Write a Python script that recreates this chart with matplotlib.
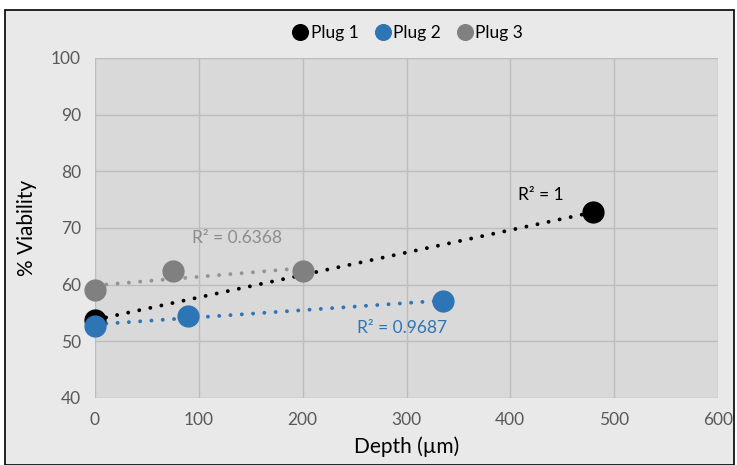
import numpy as np
import matplotlib
matplotlib.use("Agg")
import matplotlib.pyplot as plt
from matplotlib.patches import Rectangle

plt.rcParams['font.family'] = ['Lato', 'DejaVu Sans']

# data
plug1_x = [0, 480]
plug1_y = [53.8, 72.8]
plug2_x = [0, 90, 335]
plug2_y = [52.7, 54.5, 57.1]
plug3_x = [0, 75, 200]
plug3_y = [59.0, 62.4, 62.4]
r2_labels = ["R² = 1", "R² = 0.9687", "R² = 0.6368"]
xticks = [0, 100, 200, 300, 400, 500, 600]
yticks = [40, 50, 60, 70, 80, 90, 100]

fig = plt.figure(figsize=(7.37, 4.65), dpi=100)
fig.patch.set_facecolor("white")
# chart frame, kept behind the axes
frame = Rectangle((5 / 737, 0), 729 / 737, 455 / 465, transform=fig.transFigure,
                  facecolor="#e9e9e9", edgecolor="black", linewidth=1.2, zorder=-10)
fig.add_artist(frame)
ax = fig.add_axes([95 / 737, (465 - 398) / 465, 623 / 737, 340 / 465])
ax.set_facecolor("#d9d9d9")
for s in ax.spines.values():
    s.set_visible(False)

ax.set_xlim(0, 600)
ax.set_ylim(40, 100)
ax.set_xticks(xticks)
ax.set_yticks(yticks)
ax.grid(True, color="#bdbdbd", linewidth=1)
ax.set_axisbelow(True)
ax.tick_params(length=0, labelsize=12.5, colors="#595959", pad=10)

series = [
    (plug1_x, plug1_y, "black", "black", "Plug 1"),
    (plug2_x, plug2_y, "#2e75b6", "#2e75b6", "Plug 2"),
    (plug3_x, plug3_y, "#808080", "#939393", "Plug 3"),
]
for xs, ys, c, lc, name in series:
    k, b = np.polyfit(xs, ys, 1)
    tx = np.array([0, max(xs)])
    ax.plot(tx, k * tx + b, linestyle=(0, (0.01, 2.9)), color=lc, linewidth=2.8,
            dash_capstyle="round", zorder=2)
    ax.plot(xs, ys, "o", color=c, markersize=15, label=name, zorder=3, clip_on=False)

ax.text(407, 75.0, r2_labels[0], color="black", fontsize=12.5)
ax.text(252, 51.4, r2_labels[1], color="#2e75b6", fontsize=12.5)
ax.text(93, 67.3, r2_labels[2], color="#8c8c8c", fontsize=12.5)

ax.set_xlabel("Depth (µm)", fontsize=15, color="black", labelpad=6)
ax.set_ylabel("% Viability", fontsize=15, color="black", labelpad=10)

leg = ax.legend(loc="lower center", bbox_to_anchor=(0.5, 1.005), ncol=3, frameon=False,
                fontsize=12.5, markerscale=0.75, handletextpad=0.0, columnspacing=0.8,
                handlelength=1.2)

fig.savefig("out.png", dpi=100, facecolor=fig.get_facecolor())
